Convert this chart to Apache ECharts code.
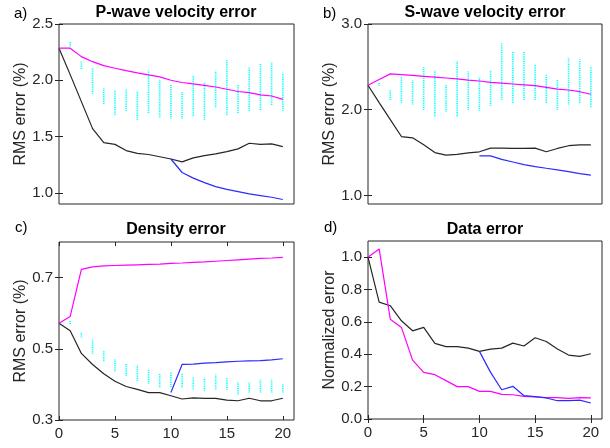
<!DOCTYPE html>
<html>
<head>
<meta charset="utf-8">
<script src="https://cdn.jsdelivr.net/npm/echarts@6/dist/echarts.min.js"></script>
<style>
  html, body { margin: 0; padding: 0; background: #fff; }
  #main { width: 610px; height: 448px; }
</style>
</head>
<body>
<div id="main"></div>
<script>
// iterations 0..20, blue runs start at iteration 10
var iters = [0, 1, 2, 3, 4, 5, 6, 7, 8, 9, 10, 11, 12, 13, 14, 15, 16, 17, 18, 19, 20]
var itersBlue = [10, 11, 12, 13, 14, 15, 16, 17, 18, 19, 20]
var itersCloud = [1, 2, 3, 4, 5, 6, 7, 8, 9, 10, 11, 12, 13, 14, 15, 16, 17, 18, 19, 20]

// a) P-wave velocity error
var pBlack = [2.285, 2.05, 1.81, 1.57, 1.445, 1.43, 1.375, 1.35, 1.34, 1.32, 1.30, 1.275, 1.31, 1.33, 1.345, 1.365, 1.39, 1.44, 1.43, 1.435, 1.41]
var pMagenta = [2.285, 2.285, 2.21, 2.165, 2.13, 2.107, 2.085, 2.065, 2.047, 2.03, 2.0, 1.98, 1.967, 1.955, 1.94, 1.92, 1.90, 1.89, 1.87, 1.86, 1.83]
var pBlue = [1.30, 1.18, 1.13, 1.09, 1.055, 1.03, 1.01, 0.99, 0.975, 0.96, 0.94]
var pLow = [2.30, 2.10, 1.88, 1.79, 1.69, 1.73, 1.65, 1.71, 1.67, 1.66, 1.66, 1.68, 1.65, 1.76, 1.69, 1.71, 1.73, 1.735, 1.78, 1.73]
var pHigh = [2.35, 2.17, 2.11, 1.93, 1.91, 1.92, 1.91, 2.085, 2.01, 1.96, 1.90, 2.045, 1.98, 2.085, 2.18, 1.96, 2.115, 2.15, 2.165, 2.07]

// b) S-wave velocity error
var sBlack = [2.286, 2.083, 1.885, 1.687, 1.672, 1.59, 1.50, 1.47, 1.478, 1.497, 1.509, 1.552, 1.552, 1.548, 1.548, 1.552, 1.51, 1.548, 1.58, 1.59, 1.59]
var sMagenta = [2.286, 2.352, 2.418, 2.41, 2.40, 2.39, 2.38, 2.37, 2.36, 2.345, 2.335, 2.32, 2.31, 2.30, 2.29, 2.28, 2.26, 2.24, 2.23, 2.21, 2.18]
var sBlue = [1.462, 1.462, 1.42, 1.39, 1.36, 1.337, 1.317, 1.298, 1.278, 1.255, 1.236]
var sLow = [2.28, 2.115, 2.08, 2.06, 2.0, 1.92, 1.98, 1.92, 2.0, 1.99, 2.045, 2.115, 2.075, 2.115, 2.115, 2.075, 2.0, 2.06, 2.075, 2.03]
var sHigh = [2.32, 2.23, 2.39, 2.34, 2.50, 2.455, 2.29, 2.57, 2.445, 2.375, 2.455, 2.775, 2.68, 2.68, 2.53, 2.415, 2.35, 2.61, 2.59, 2.50]

// c) Density error
var dBlack = [0.572, 0.551, 0.487, 0.456, 0.430, 0.409, 0.394, 0.386, 0.377, 0.377, 0.368, 0.359, 0.362, 0.361, 0.361, 0.356, 0.354, 0.361, 0.354, 0.354, 0.361]
var dMagenta = [0.572, 0.591, 0.723, 0.730, 0.733, 0.734, 0.735, 0.736, 0.737, 0.738, 0.740, 0.741, 0.743, 0.744, 0.746, 0.748, 0.750, 0.752, 0.754, 0.755, 0.757]
var dBlue = [0.377, 0.456, 0.457, 0.460, 0.461, 0.463, 0.465, 0.466, 0.467, 0.469, 0.472]
var dLow = [0.570, 0.532, 0.487, 0.465, 0.437, 0.424, 0.410, 0.402, 0.391, 0.393, 0.391, 0.386, 0.382, 0.386, 0.385, 0.372, 0.377, 0.377, 0.377, 0.377]
var dHigh = [0.579, 0.547, 0.528, 0.495, 0.470, 0.458, 0.454, 0.442, 0.430, 0.435, 0.430, 0.421, 0.419, 0.428, 0.417, 0.405, 0.405, 0.414, 0.414, 0.400]

// d) Data error
var eBlack = [1.0, 0.722, 0.70, 0.607, 0.545, 0.566, 0.467, 0.447, 0.447, 0.438, 0.418, 0.432, 0.438, 0.469, 0.451, 0.502, 0.479, 0.432, 0.395, 0.387, 0.403]
var eMagenta = [1.0, 1.051, 0.617, 0.566, 0.364, 0.288, 0.274, 0.237, 0.2, 0.2, 0.171, 0.171, 0.152, 0.150, 0.14, 0.136, 0.132, 0.132, 0.128, 0.132, 0.13]
var eBlue = [0.418, 0.288, 0.181, 0.202, 0.144, 0.138, 0.13, 0.113, 0.113, 0.117, 0.099]

var xTicks = [0, 5, 10, 15, 20]
var yTicksA = [1.0, 1.5, 2.0, 2.5]
var yTicksB = [1.0, 2.0, 3.0]
var yTicksC = [0.3, 0.5, 0.7]
var yTicksD = [0, 0.2, 0.4, 0.6, 0.8, 1.0]

var FONT = 'Liberation Sans'
var AX = '#262626'

function pairs(xs, ys) {
  return ys.map(function (v, i) { return [xs[i], v] })
}
function cloud(lo, hi) {
  return lo.map(function (v, i) { return [itersCloud[i], v, hi[i]] })
}

// each run cloud drawn as a dotted vertical stroke from low to high
function renderColumn(params, api) {
  var p1 = api.coord([api.value(0), api.value(1)])
  var p2 = api.coord([api.value(0), api.value(2)])
  return {
    type: 'line',
    shape: { x1: p1[0], y1: p1[1], x2: p2[0], y2: p2[1] },
    style: { stroke: '#00ffff', lineWidth: 1.6, lineDash: [1, 0.8] }
  }
}

var grids = [
  { left: 59, top: 24, width: 235, height: 180 },
  { left: 368, top: 24, width: 234, height: 180 },
  { left: 59, top: 242, width: 235, height: 178 },
  { left: 368, top: 241, width: 234, height: 178 }
]
grids.forEach(function (g) {
  g.show = true
  g.borderColor = AX
  g.borderWidth = 1
  g.backgroundColor = '#fff'
})

var xAxes = []
var yAxes = []
var yRanges = [[0.9, 2.5, yTicksA, 'RMS error (%)'], [0.9, 3.0, yTicksB, 'RMS error (%)'],
  [0.3, 0.8, yTicksC, 'RMS error (%)'], [0, 1.1, yTicksD, 'Normalized error']]

for (var i = 0; i < 4; i++) {
  var bottomRow = i >= 2
  xAxes.push({
    type: 'value', gridIndex: i, min: 0, max: 21, position: 'bottom',
    axisLine: { show: false },
    splitLine: { show: false },
    axisTick: { show: bottomRow, inside: true, length: 4, customValues: xTicks, lineStyle: { color: AX } },
    axisLabel: { show: bottomRow, customValues: xTicks, margin: 6, fontSize: 15, fontFamily: FONT, color: AX }
  })
  // mirrored ticks on top of the box
  xAxes.push({
    type: 'value', gridIndex: i, min: 0, max: 21, position: 'top',
    axisLine: { show: false },
    splitLine: { show: false },
    axisTick: { show: bottomRow, inside: true, length: 4, customValues: xTicks, lineStyle: { color: AX } },
    axisLabel: { show: false }
  })
  var r = yRanges[i]
  yAxes.push({
    type: 'value', gridIndex: i, min: r[0], max: r[1], position: 'left',
    name: r[3], nameLocation: 'middle', nameGap: 29,
    nameTextStyle: { fontSize: 16, fontFamily: FONT, color: AX },
    axisLine: { show: false },
    splitLine: { show: false },
    axisTick: { inside: true, length: 4, customValues: r[2], lineStyle: { color: AX } },
    axisLabel: {
      customValues: r[2], margin: 6, fontSize: 15, fontFamily: FONT, color: AX,
      formatter: function (v) { return Number(v).toFixed(1) }
    }
  })
  yAxes.push({
    type: 'value', gridIndex: i, min: r[0], max: r[1], position: 'right',
    axisLine: { show: false },
    splitLine: { show: false },
    axisTick: { inside: true, length: 4, customValues: r[2], lineStyle: { color: AX } },
    axisLabel: { show: false }
  })
}

var panelData = [
  [pBlack, pMagenta, pBlue, pLow, pHigh],
  [sBlack, sMagenta, sBlue, sLow, sHigh],
  [dBlack, dMagenta, dBlue, dLow, dHigh],
  [eBlack, eMagenta, eBlue, null, null]
]

var series = []
panelData.forEach(function (pd, i) {
  var xi = i * 2, yi = i * 2
  if (pd[3]) {
    series.push({
      type: 'custom', xAxisIndex: xi, yAxisIndex: yi, z: 1,
      renderItem: renderColumn, encode: { x: 0, y: [1, 2] },
      data: cloud(pd[3], pd[4]), silent: true
    })
  }
  series.push({
    type: 'line', xAxisIndex: xi, yAxisIndex: yi, z: 3, showSymbol: false,
    lineStyle: { color: '#262626', width: 1.2 }, data: pairs(iters, pd[0])
  })
  series.push({
    type: 'line', xAxisIndex: xi, yAxisIndex: yi, z: 3, showSymbol: false,
    lineStyle: { color: '#ff00ff', width: 1.2 }, data: pairs(iters, pd[1])
  })
  series.push({
    type: 'line', xAxisIndex: xi, yAxisIndex: yi, z: 4, showSymbol: false,
    lineStyle: { color: '#2b2bff', width: 1.2 }, data: pairs(itersBlue, pd[2])
  })
})

function titleAt(text, cx, top) {
  return {
    text: text, left: cx, top: top, textAlign: 'center', padding: 0,
    textStyle: { fontSize: 16, fontWeight: 'bold', fontFamily: FONT, color: '#000' }
  }
}
function labelAt(text, left, top) {
  return {
    text: text, left: left, top: top, padding: 0,
    textStyle: { fontSize: 15, fontWeight: 'normal', fontFamily: FONT, color: '#000' }
  }
}

var myChart = echarts.init(document.getElementById('main'), null, { renderer: 'canvas' })
myChart.setOption({
  animation: false,
  backgroundColor: '#fff',
  title: [
    titleAt('P-wave velocity error', 176, 5),
    titleAt('S-wave velocity error', 485, 5),
    titleAt('Density error', 176, 222),
    titleAt('Data error', 485, 222),
    labelAt('a)', 14, 6),
    labelAt('b)', 323, 6),
    labelAt('c)', 15, 220),
    labelAt('d)', 324, 220)
  ],
  grid: grids,
  xAxis: xAxes,
  yAxis: yAxes,
  series: series
})
</script>
</body>
</html>
